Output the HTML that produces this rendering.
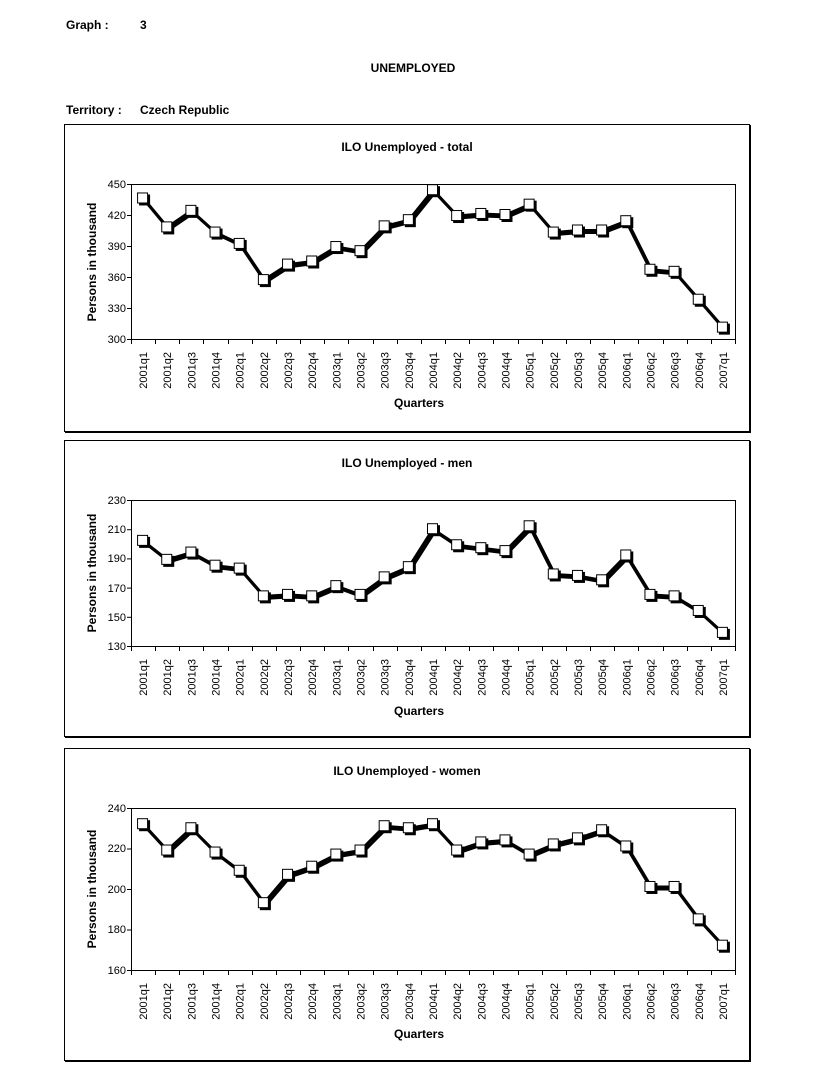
<!DOCTYPE html>
<html><head><meta charset="utf-8"><style>
body{margin:0;background:#fff;}
svg{display:block;font-family:"Liberation Sans",Arial,sans-serif;}
.b{font-weight:bold;font-size:12px}
.t{font-size:11px}
</style></head><body>
<svg id="s" width="831" height="1080" xmlns="http://www.w3.org/2000/svg">
<text x="66" y="29" class="b">Graph :</text><text x="140" y="29" class="b">3</text>
<text x="413" y="72" class="b" text-anchor="middle">UNEMPLOYED</text>
<text x="66" y="114" class="b">Territory :</text><text x="140" y="114" class="b">Czech Republic</text>

<rect x="64.5" y="124.5" width="685" height="307" fill="none" stroke="#000" stroke-width="1"/>
<line x1="750" y1="125" x2="750" y2="432" stroke="#000" stroke-width="2"/><line x1="65" y1="432" x2="751" y2="432" stroke="#000" stroke-width="2"/>
<text x="407" y="151" class="b" text-anchor="middle">ILO Unemployed - total</text>
<text transform="translate(96,262) rotate(-90)" class="b" text-anchor="middle">Persons in thousand</text>
<text x="419" y="407" class="b" text-anchor="middle">Quarters</text>
<g class="t" text-anchor="end">
<text x="126" y="188">450</text><text x="126" y="219">420</text><text x="126" y="250">390</text><text x="126" y="281">360</text><text x="126" y="312">330</text><text x="126" y="343">300</text>
</g>
<g id="l1" class="t" transform="translate(0,346)"></g>

<rect x="64.5" y="440.5" width="685" height="296" fill="none" stroke="#000" stroke-width="1"/>
<line x1="750" y1="441" x2="750" y2="737" stroke="#000" stroke-width="2"/><line x1="65" y1="737" x2="751" y2="737" stroke="#000" stroke-width="2"/>
<text x="407" y="467" class="b" text-anchor="middle">ILO Unemployed - men</text>
<text transform="translate(96,573) rotate(-90)" class="b" text-anchor="middle">Persons in thousand</text>
<text x="419" y="715" class="b" text-anchor="middle">Quarters</text>
<g class="t" text-anchor="end">
<text x="126" y="504">230</text><text x="126" y="533">210</text><text x="126" y="562">190</text><text x="126" y="592">170</text><text x="126" y="621">150</text><text x="126" y="650">130</text>
</g>
<g id="l2" class="t" transform="translate(0,653)"></g>

<rect x="64.5" y="748.5" width="685" height="312" fill="none" stroke="#000" stroke-width="1"/>
<line x1="750" y1="749" x2="750" y2="1061" stroke="#000" stroke-width="2"/><line x1="65" y1="1061" x2="751" y2="1061" stroke="#000" stroke-width="2"/>
<text x="407" y="775" class="b" text-anchor="middle">ILO Unemployed - women</text>
<text transform="translate(96,889) rotate(-90)" class="b" text-anchor="middle">Persons in thousand</text>
<text x="419" y="1038" class="b" text-anchor="middle">Quarters</text>
<g class="t" text-anchor="end">
<text x="126" y="812">240</text><text x="126" y="852">220</text><text x="126" y="893">200</text><text x="126" y="933">180</text><text x="126" y="974">160</text>
</g>
<g id="l3" class="t" transform="translate(0,977)"></g>
</svg>
<script>
var labs=["2001q1","2001q2","2001q3","2001q4","2002q1","2002q2","2002q3","2002q4","2003q1","2003q2","2003q3","2003q4","2004q1","2004q2","2004q3","2004q4","2005q1","2005q2","2005q3","2005q4","2006q1","2006q2","2006q3","2006q4","2007q1"];
var L=131,R=735,W=(R-L)/25,NS="http://www.w3.org/2000/svg",s=document.getElementById('s');
function el(t,a,p){var e=document.createElementNS(NS,t);for(var k in a)e.setAttribute(k,a[k]);(p||s).appendChild(e);return e;}
var charts=[
{top:184,bot:339,min:300,max:450,n:5,g:'l1',v:[436,408,424,403,392,357,372,375,389,385,409,415,444,419,421,420,430,403,405,405,414,367,365,338,311]},
{top:500,bot:646,min:130,max:230,n:5,g:'l2',v:[202,189,194,185,183,164,165,164,171,165,177,184,210,199,197,195,212,179,178,175,192,165,164,154,139]},
{top:808,bot:970,min:160,max:240,n:4,g:'l3',v:[232,219,230,218,209,193,207,211,217,219,231,230,232,219,223,224,217,222,225,229,221,201,201,185,172]}];
charts.forEach(function(c){
 el('rect',{x:L+.5,y:c.top+.5,width:R-L,height:c.bot-c.top,fill:'#fff',stroke:'#000','stroke-width':1});
 for(var i=0;i<=c.n;i++){var y=c.top+(c.bot-c.top)*i/c.n;el('line',{x1:L-4,x2:L,y1:y+.5,y2:y+.5,stroke:'#000'});}
 for(var i=0;i<=25;i++){var x=Math.round(L+W*i)+.5;el('line',{x1:x,x2:x,y1:c.bot,y2:c.bot+5,stroke:'#000'});}
 var g=document.getElementById(c.g);
 labs.forEach(function(t,i){var x=L+W*(i+.5)+4;var e=el('text',{transform:'translate('+x+',6) rotate(-90)','text-anchor':'end'},g);e.textContent=t;});
 var pts=c.v.map(function(v,i){return [L+W*(i+.5),c.bot-(v-c.min)/(c.max-c.min)*(c.bot-c.top)];});
 var ps=pts.map(function(p){return p.join(',')}).join(' ');
 var ps2=pts.map(function(p){return (p[0]+2)+','+(p[1]+2)}).join(' ');
 el('polyline',{points:ps2,fill:'none',stroke:'#000','stroke-width':3,'stroke-linejoin':'round'});
 el('polyline',{points:ps,fill:'none',stroke:'#000','stroke-width':3,'stroke-linejoin':'round'});
 pts.forEach(function(p){
  el('rect',{x:p[0]-4,y:p[1]-4,width:11,height:11,fill:'#000'});
  el('rect',{x:p[0]-5.5,y:p[1]-5.5,width:10,height:10,fill:'#fff',stroke:'#000','stroke-width':1});
 });
});
</script>
</body></html>
